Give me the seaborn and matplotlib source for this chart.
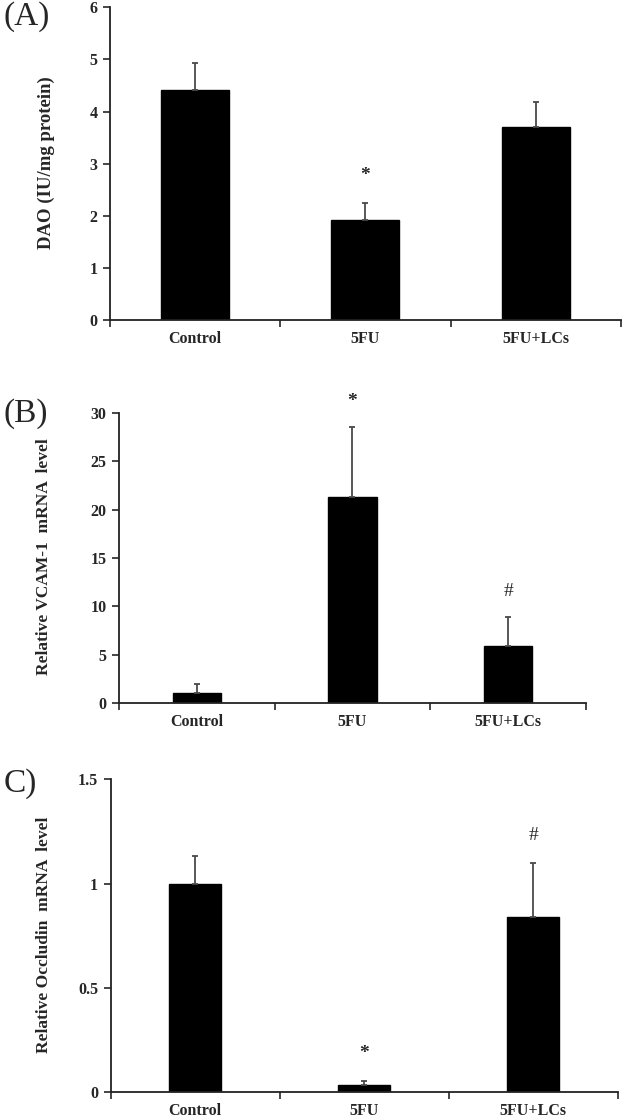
import numpy as np
import matplotlib
matplotlib.use("Agg")
import matplotlib.pyplot as plt
from matplotlib.ticker import FuncFormatter, FixedLocator
import seaborn as sns

# ----------------------------
# data
# ----------------------------
groups = ["Control", "5FU", "5FU+LCs"]

dao_mean = [4.41, 1.91, 3.70]
dao_err = [0.52, 0.34, 0.48]
dao_marks = ["", "*", ""]

vcam_mean = [1.05, 21.3, 5.9]
vcam_err = [0.9, 7.2, 3.0]
vcam_marks = ["", "*", "#"]

occl_mean = [1.0, 0.034, 0.84]
occl_err = [0.134, 0.022, 0.26]
occl_marks = ["", "*", "#"]

sns.set_style("white")
plt.rcParams["font.family"] = ["Liberation Serif", "DejaVu Serif"]

fig = plt.figure(figsize=(6.24, 11.18), dpi=100)


def panel(rect, means, errs, marks, ylim, step, ylabel, lab_size, label_xy, tag, tag_y, bar_w):
   ax = fig.add_axes(rect)
   sns.barplot(x=groups, y=means, color="black", width=bar_w, ax=ax,
               edgecolor="black", saturation=1)
   xs = np.arange(len(groups))
   ax.errorbar(xs, means, yerr=[np.zeros(len(errs)), errs], fmt="none",
               ecolor="#4a4a4a", elinewidth=1.3, capsize=2, capthick=1.3)
   for x, m, e, s in zip(xs, means, errs, marks):
      if s:
         ax.text(x, m + e + 0.088 * ylim, s, ha="center", va="center",
                 fontsize=14, fontweight="bold" if s == "*" else "normal")
   ax.set_xlim(-0.5, 2.5)
   ax.set_ylim(0, ylim)
   ax.set_yticks(np.arange(0, ylim + step / 2, step))
   ax.yaxis.set_major_formatter(FuncFormatter(lambda v, p: f"{v:g}"))
   ax.xaxis.set_minor_locator(FixedLocator([-0.5, 0.5, 1.5, 2.5]))
   ax.tick_params(axis="x", which="major", length=0, pad=8)
   ax.tick_params(axis="x", which="minor", length=5, width=1.2, direction="out", bottom=True)
   ax.tick_params(axis="y", length=5, width=1.2, direction="out", left=True, pad=4)
   for t in ax.get_xticklabels() + ax.get_yticklabels():
      t.set_fontweight("bold")
      t.set_fontsize(11.5)
   for side in ["top", "right"]:
      ax.spines[side].set_visible(False)
   for side in ["left", "bottom"]:
      ax.spines[side].set_color("#222222")
      ax.spines[side].set_linewidth(1.3)
   ax.set_ylabel(ylabel, fontsize=lab_size, fontweight="bold")
   ax.yaxis.set_label_coords(*label_xy)
   ax.set_xlabel("")
   fig.text(0.006, tag_y, tag, fontsize=24, ha="left", va="top")
   return ax


panel([0.1763, 0.7138, 0.8186, 0.2797], dao_mean, dao_err, dao_marks, 6, 1,
      "DAO (IU/mg protein)", 13.5, (-0.108, 0.504), "(A)", 0.999, 0.4)
panel([0.1907, 0.3712, 0.7484, 0.2594], vcam_mean, vcam_err, vcam_marks, 30, 5,
      "Relative VCAM-1  mRNA  level", 12.5, (-0.143, 0.503), "(B)", 0.644, 0.31)
panel([0.1774, 0.0230, 0.8123, 0.2800], occl_mean, occl_err, occl_marks, 1.5, 0.5,
      "Relative Occludin  mRNA  level", 12.5, (-0.116, 0.503), "C)", 0.313, 0.31)

fig.savefig("out.png", dpi=100)
